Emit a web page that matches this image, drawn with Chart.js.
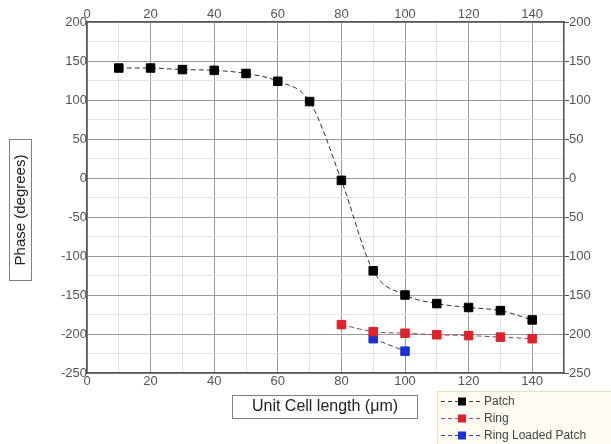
<!DOCTYPE html>
<html>
<head>
<meta charset="utf-8">
<script src="https://cdn.jsdelivr.net/npm/chart.js@4.4.1/dist/chart.umd.min.js"></script>
<style>
  body { margin: 0; background: #fff; }
  #chart { display: block; }
</style>
</head>
<body>
<canvas id="chart" width="611" height="444"></canvas>
<script>
// data
var patchX = [10, 20, 30, 40, 50, 60, 70, 80, 90, 100, 110, 120, 130, 140];
var patchY = [141, 141, 139, 138, 134, 124, 98, -3, -119, -150, -161, -166, -170, -182];
var ringX = [80, 90, 100, 110, 120, 130, 140];
var ringY = [-188, -197, -199, -201, -202, -204, -206];
var loadedX = [90, 100];
var loadedY = [-206, -222];

var xTickLabels = ['0', '20', '40', '60', '80', '100', '120', '140'];
var leftTickLabels = ['200', '150', '100', '50', '0', '-50', '-100', '-150', '-200', '-250'];
var rightTickLabels = ['200', '150', '100', '50', '0', '50', '100', '150', '200', '250'];

var FONT = '"Liberation Sans", Arial, sans-serif';

function pts(xs, ys) {
    return xs.map(function (x, i) { return {x: x, y: ys[i]}; });
}

function xLabel(v) {
    var i = xTickLabels.indexOf(String(v));
    return i >= 0 ? xTickLabels[i] : '';
}
function yLabel(arr) {
    return function (v) {
        if (v % 50 !== 0) return '';
        var i = (200 - v) / 50;
        return arr[i] !== undefined ? arr[i] : '';
    };
}
function gridColor(major) {
    return function (ctx) {
        if (!ctx.tick) return '#ddd';
        return ctx.tick.value % major === 0 ? '#9a9a9a' : '#e2e2e2';
    };
}

// titles with boxes and legend box drawn on the canvas
var decorations = {
    id: 'decorations',
    afterDraw: function (chart) {
        var c = chart.ctx;
        c.save();
        c.fillStyle = '#222';
        c.strokeStyle = '#7a8090';
        c.lineWidth = 1;
        // x title
        c.font = '16px ' + FONT;
        c.textAlign = 'center';
        c.textBaseline = 'middle';
        c.fillText('Unit Cell length (\u03bcm)', 325, 407);
        c.strokeRect(232.5, 395.5, 185, 23);
        // y title
        c.translate(21, 210);
        c.rotate(-Math.PI / 2);
        c.font = '15px ' + FONT;
        c.fillText('Phase (degrees)', 0, 0);
        c.strokeRect(-70.5, -11.5, 141, 22);
        c.restore();

        // legend
        c.save();
        c.fillStyle = '#fffdf3';
        c.strokeStyle = '#eadfb8';
        c.fillRect(437, 391, 180, 60);
        c.strokeRect(437.5, 391.5, 180, 60);
        c.font = '12px ' + FONT;
        c.textBaseline = 'middle';
        c.textAlign = 'left';
        chart.data.datasets.forEach(function (ds, i) {
            var y = 401 + i * 17;
            c.strokeStyle = ds.legendLine;
            c.lineWidth = 1;
            c.setLineDash([4, 3]);
            c.beginPath();
            c.moveTo(441, y + 0.5);
            c.lineTo(481, y + 0.5);
            c.stroke();
            c.setLineDash([]);
            c.fillStyle = ds.pointBackgroundColor;
            c.fillRect(458, y - 3.5, 8, 8);
            c.fillStyle = '#444';
            c.fillText(ds.label, 484, y + 1);
        });
        c.restore();
    }
};

var tickFont = {family: FONT, size: 13};

new Chart(document.getElementById('chart').getContext('2d'), {
    type: 'scatter',
    data: {
        datasets: [
            {
                label: 'Patch',
                data: pts(patchX, patchY),
                showLine: true,
                borderColor: '#333',
                legendLine: '#444',
                borderWidth: 1,
                borderDash: [5, 3],
                cubicInterpolationMode: 'monotone',
                pointStyle: 'rect',
                pointRadius: 6,
                pointBackgroundColor: '#000',
                pointBorderColor: '#000'
            },
            {
                label: 'Ring',
                data: pts(ringX, ringY),
                showLine: true,
                borderColor: '#8a4a4a',
                legendLine: '#d03a5a',
                borderWidth: 1,
                borderDash: [5, 3],
                cubicInterpolationMode: 'monotone',
                pointStyle: 'rect',
                pointRadius: 6,
                pointBackgroundColor: '#e0202a',
                pointBorderColor: '#e0202a'
            },
            {
                label: 'Ring Loaded Patch',
                data: pts(loadedX, loadedY),
                showLine: true,
                borderColor: '#3a4a7a',
                legendLine: '#3040d0',
                borderWidth: 1,
                borderDash: [5, 3],
                pointStyle: 'rect',
                pointRadius: 6,
                pointBackgroundColor: '#1a30d8',
                pointBorderColor: '#1a30d8'
            }
        ]
    },
    options: {
        responsive: false,
        animation: false,
        layout: {padding: 0},
        plugins: {legend: {display: false}, tooltip: {enabled: false}},
        scales: {
            x: {
                type: 'linear', position: 'bottom', min: 0, max: 150,
                afterFit: function (s) { s.height = 71; },
                border: {color: '#555', width: 1.5},
                grid: {color: gridColor(20), tickLength: 0, drawTicks: false},
                ticks: {stepSize: 10, autoSkip: false, maxRotation: 0, padding: 1,
                        color: '#555', font: tickFont, callback: xLabel}
            },
            x2: {
                type: 'linear', position: 'top', min: 0, max: 150,
                afterFit: function (s) { s.height = 22; },
                border: {color: '#555', width: 1.5},
                grid: {drawOnChartArea: false, drawTicks: false},
                ticks: {stepSize: 10, autoSkip: false, maxRotation: 0, padding: 0,
                        color: '#555', font: tickFont, callback: xLabel}
            },
            y: {
                type: 'linear', position: 'left', min: -250, max: 200,
                afterFit: function (s) { s.width = 87; },
                border: {color: '#555', width: 1.5},
                grid: {color: gridColor(50), drawTicks: false},
                ticks: {stepSize: 25, autoSkip: false, padding: 0,
                        color: '#555', font: tickFont, callback: yLabel(leftTickLabels)}
            },
            y2: {
                type: 'linear', position: 'right', min: -250, max: 200,
                afterFit: function (s) { s.width = 47; },
                border: {color: '#555', width: 1.5},
                grid: {drawOnChartArea: false, tickLength: 5,
                       color: function (ctx) { return ctx.tick && ctx.tick.value % 50 === 0 ? '#555' : 'rgba(0,0,0,0)'; }},
                ticks: {stepSize: 25, autoSkip: false, padding: 0,
                        color: '#555', font: tickFont, callback: yLabel(rightTickLabels)}
            }
        }
    },
    plugins: [decorations]
});
</script>
</body>
</html>
